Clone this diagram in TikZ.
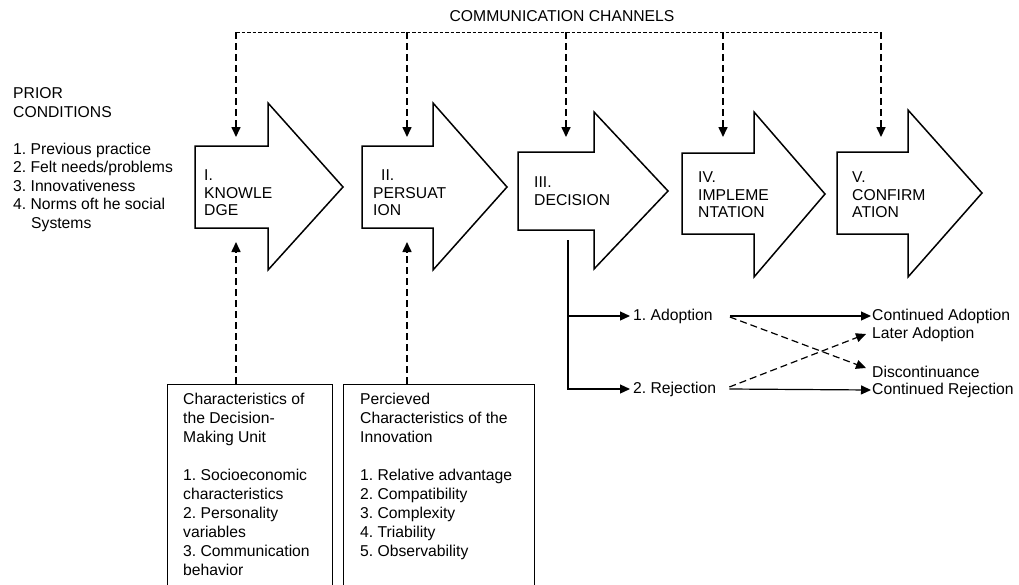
\documentclass[tikz,border=0pt]{standalone}
\usepackage{fontspec}
\setmainfont{Liberation Sans}
\usetikzlibrary{arrows.meta}
\frenchspacing

\tikzset{
  stage/.style={draw=black, line width=1.5pt, fill=white, line join=miter},
  lbl/.style={anchor=north west, inner sep=0pt, align=left, font=\fontsize{15.7}{18.5}\selectfont},
  stagetxt/.style={lbl, font=\fontsize{15.7}{17.5}\selectfont},
  boxtxt/.style={lbl, font=\fontsize{15.7}{19}\selectfont},
  factorbox/.style={draw=black, line width=1.1pt, anchor=north west, inner sep=0pt},
  outcome/.style={anchor=west, inner sep=1pt, text height=11.5pt, text depth=3pt, font=\fontsize{15.7}{18.5}\selectfont},
  channel/.style={black, line width=0.9pt, dash pattern=on 3.5pt off 2pt},
  drop/.style={black, line width=1.6pt, dash pattern=on 7pt off 4pt, -{Triangle[width=9pt,length=10pt]}},
  flow/.style={black, line width=1.2pt, -{Triangle[width=9pt,length=10pt]}},
  switchline/.style={flow, dash pattern=on 7pt off 4pt}
}

\begin{document}
\begin{tikzpicture}[x=1pt, y=-1pt]
        \useasboundingbox (0,0) rectangle (1019,584);
        \clip (0,0) rectangle (1019,584);

        %% communication channels
        \node[outcome, anchor=center] (cc) at (562,17) {COMMUNICATION CHANNELS};
        \coordinate (c1) at (236,32); \coordinate (e1) at (236,137);
        \coordinate (c2) at (407,32); \coordinate (e2) at (407,137);
        \coordinate (c3) at (566,32); \coordinate (e3) at (566,137);
        \coordinate (c4) at (723,32); \coordinate (e4) at (723,137);
        \coordinate (c5) at (881,32); \coordinate (e5) at (881,137);
        \draw[channel] (c1) -- (c5);
        \draw[drop] (c1) -- (e1);
        \draw[drop] (c2) -- (e2);
        \draw[drop] (c3) -- (e3);
        \draw[drop] (c4) -- (e4);
        \draw[drop] (c5) -- (e5);

        %% prior conditions
        \node[lbl] (prior) at (13,85.6) {\strut PRIOR\\CONDITIONS\\[18.5pt]1. Previous practice\\2. Felt needs/problems\\3. Innovativeness\\4. Norms oft he social\\\hspace*{18pt}Systems};

        %% the five stages
        \draw[stage] (195,146) -- (268,146) -- (268,103) -- (343,187) -- (268,270) -- (268,228) -- (195,228) -- cycle;
        \node[stagetxt] (know) at (204,168.4) {\strut I.\\KNOWLE\\DGE};
        \draw[stage] (362,146) -- (433,146) -- (433,103) -- (507,187) -- (433,270) -- (433,228) -- (362,228) -- cycle;
        \node[stagetxt] (pers) at (373,168.4) {\strut\hspace*{8pt}II.\\PERSUAT\\ION};
        \draw[stage] (518,152) -- (594,152) -- (594,112) -- (668,191) -- (594,269) -- (594,230) -- (518,230) -- cycle;
        \node[stagetxt] (deci) at (534,175.4) {\strut III.\\DECISION};
        \draw[stage] (682,153) -- (754,153) -- (754,112) -- (825,194) -- (754,277) -- (754,234) -- (682,234) -- cycle;
        \node[stagetxt] (impl) at (698,170.4) {\strut IV.\\IMPLEME\\NTATION};
        \draw[stage] (837,152) -- (908,152) -- (908,110) -- (982,193) -- (908,277) -- (908,234) -- (837,234) -- cycle;
        \node[stagetxt] (conf) at (852,170.4) {\strut V.\\CONFIRM\\ATION};

        %% characteristics boxes
        \node[factorbox, minimum width=165pt, minimum height=220pt] (dmu) at (167,384) {};
        \node[boxtxt] (dmutxt) at (183,391.3) {\strut Characteristics of\\the Decision-\\Making Unit\\[19pt]1. Socioeconomic\\characteristics\\2. Personality\\variables\\3. Communication\\behavior};
        \node[factorbox, minimum width=191pt, minimum height=220pt] (pci) at (343,384) {};
        \node[boxtxt] (pcitxt) at (360,391.3) {\strut Percieved\\Characteristics of the\\Innovation\\[19pt]1. Relative advantage\\2. Compatibility\\3. Complexity\\4. Triability\\5. Observability};
        \coordinate (k1) at (236,242);
        \coordinate (k2) at (407,242);
        \draw[drop] (dmu.north -| k1) -- (k1);
        \draw[drop] (pci.north -| k2) -- (k2);

        %% decision outcomes
        \coordinate (d0) at (568,240);
        \node[outcome] (ad) at (632,316) {1. Adoption};
        \node[outcome] (rj) at (632,389) {2. Rejection};
        \draw[flow] (d0) |- ([xshift=-2pt]rj.west);
        \draw[flow] (d0 |- ad.west) -- ([xshift=-2pt]ad.west);
        \node[outcome] (ca) at (871,316) {Continued Adoption};
        \node[outcome] (la) at (871,334) {Later Adoption};
        \node[outcome] (dc) at (871,373) {Discontinuance};
        \node[outcome] (cr) at (871,390) {Continued Rejection};
        \draw[flow] ([xshift=16pt]ad.east) -- (ca.west);
        \draw[flow] ([xshift=12pt]rj.east) -- (cr.west);
        \draw[switchline] ([xshift=16pt,yshift=-1pt]ad.east) -- ([xshift=-5pt,yshift=5pt]dc.west);
        \draw[switchline] ([xshift=12pt,yshift=2pt]rj.east) -- ([xshift=-5pt]la.west);

      \end{tikzpicture}
\end{document}
